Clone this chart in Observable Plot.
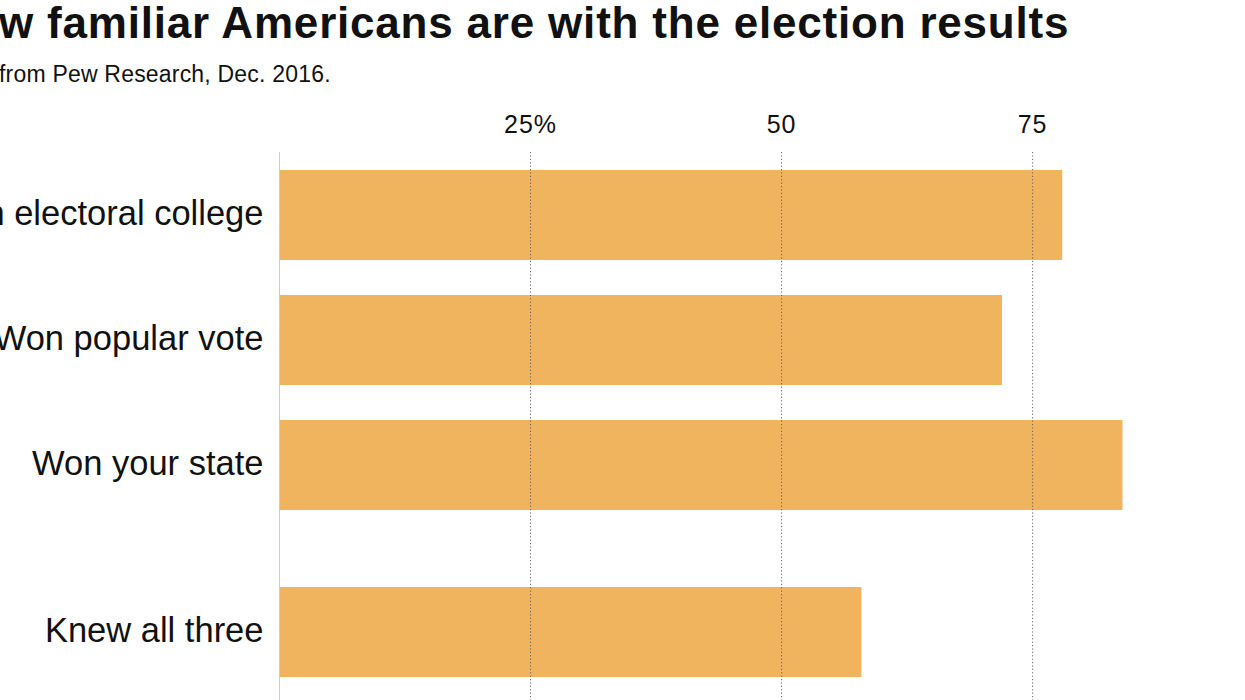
<!DOCTYPE html>
<html><head><meta charset="utf-8">
<script src="https://cdn.jsdelivr.net/npm/d3@7"></script>
<script src="https://cdn.jsdelivr.net/npm/@observablehq/plot@0.6"></script>
<style>
html,body{margin:0;padding:0;background:#fff;overflow:hidden;width:1245px;height:700px}
#wrap{position:relative;width:1245px;height:700px;overflow:hidden}
#title{position:absolute;top:1px;white-space:nowrap;font-weight:bold;font-size:44px;letter-spacing:0.8px;font-family:"Liberation Sans",Arial,sans-serif;color:#111;line-height:1}
#subtitle{position:absolute;top:63px;white-space:nowrap;font-size:23px;letter-spacing:0.2px;font-family:"Liberation Sans",Arial,sans-serif;color:#111;line-height:1}
#chart{position:absolute;top:100px;left:0}
</style>
</head><body>
<div id="wrap">
  <div id="title"></div>
  <div id="subtitle"></div>
  <div id="chart"></div>
</div>
<script>
const titleText = "How familiar Americans are with the election results";
const subtitleText = "Data from Pew Research, Dec. 2016.";
const categories = ["Won electoral college", "Won popular vote", "Won your state", "Knew all three"];
const values = [78, 72, 84, 58];
const groups = ["question", "question", "question", "total"];
const tickValues = [25, 50, 75];
const tickLabels = ["25%", "50", "75"];

const FONT = '"Liberation Sans", Arial, sans-serif';
const canvas = document.createElement("canvas");
const ctx = canvas.getContext("2d");
function measure(text, font) { ctx.font = font; return ctx.measureText(text).width; }

const t = document.getElementById("title");
t.textContent = titleText;
t.style.left = (-measure("Ho", `bold 44px ${FONT}`) - 2 * 0.8 - 1) + "px";
const s = document.getElementById("subtitle");
s.textContent = subtitleText;
s.style.left = (-measure("Data ", `23px ${FONT}`) - 5 * 0.2 - 1) + "px";

// vertical layout: one unit per row, with an extra gap before the total row
const GAP = 0.336, BAND = 0.72;
let offset = 0;
const rows = categories.map((c, i) => {
  if (i > 0 && groups[i] !== groups[i - 1]) offset += GAP;
  const pos = i + offset;
  return {category: c, value: values[i], y1: pos, y2: pos + BAND, ym: pos + BAND / 2};
});

const plot = Plot.plot({
  width: 1245,
  height: 600,
  marginLeft: 279,
  marginRight: 0,
  marginTop: 52,
  marginBottom: 0,
  style: {fontFamily: FONT, color: "#111", background: "#fff", overflow: "visible"},
  x: {domain: [0, 96.2], axis: null},
  y: {domain: [-0.144, 4.24], reverse: true, axis: null},
  marks: [
    Plot.rectX(rows, {x1: 0, x2: "value", y1: "y1", y2: "y2", fill: "#f0b35e"}),
    Plot.ruleX([0], {stroke: "#cccccc", strokeWidth: 1}),
    Plot.ruleX(tickValues, {stroke: "#666", strokeWidth: 1, strokeDasharray: "1.2,2.2"}),
    Plot.axisX({anchor: "top", ticks: tickValues, tickFormat: (d) => tickLabels[tickValues.indexOf(d)], tickSize: 0, tickPadding: 20, fontSize: 25, fill: "#111", label: null}),
    Plot.text(rows, {x: 0, y: "ym", text: "category", textAnchor: "end", dx: -16, dy: -2, fontSize: 34.5, fill: "#111"})
  ]
});
plot.querySelectorAll("[aria-label='x-axis tick label'] text").forEach(n => n.setAttribute("letter-spacing", "1"));
document.getElementById("chart").appendChild(plot);
</script>
</body></html>
